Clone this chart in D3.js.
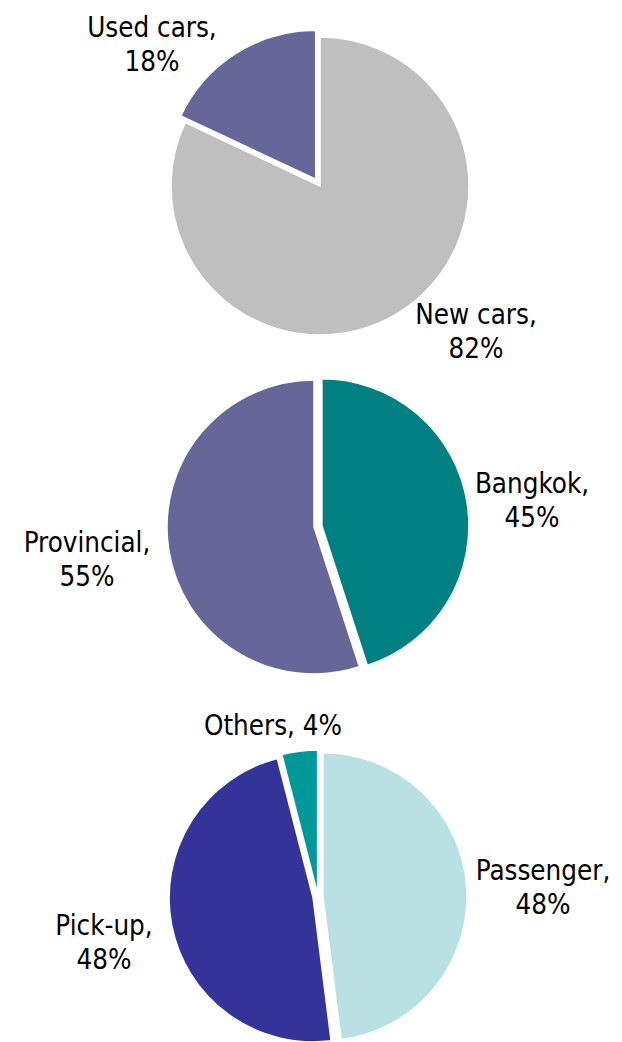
<!DOCTYPE html>
<html>
<head>
<meta charset="utf-8">
<script src="https://cdn.jsdelivr.net/npm/d3@7"></script>
<style>
    html, body { margin: 0; padding: 0; background: #ffffff; }
    svg text { font-family: "DejaVu Sans Condensed", "DejaVu Sans", sans-serif; font-stretch: condensed; font-size: 27.5px; fill: #000000; }
</style>
</head>
<body>
<div id="chart"></div>
<script>
// data, one small set per pie
var saleLabels = ['New cars', 'Used cars'];
var saleValues = [82, 18];

var regionLabels = ['Bangkok', 'Provincial'];
var regionValues = [45, 55];

var typeLabels = ['Passenger', 'Pick-up', 'Others'];
var typeValues = [48, 48, 4];

// layout / style for each pie (not data)
var pies = [
    {
        labels: saleLabels, values: saleValues,
        colors: ['#bfbfbf', '#666699'],
        explode: [0, 8],
        cx: 320, cy: 186, r: 149,
        text: [
            { x: 476, y: 324, lines: ['New cars,', '82%'] },
            { x: 152, y: 37, lines: ['Used cars,', '18%'] }
        ]
    },
    {
        labels: regionLabels, values: regionValues,
        colors: ['#008080', '#666699'],
        explode: [8, 0],
        cx: 314, cy: 527, r: 147,
        text: [
            { x: 532, y: 493, lines: ['Bangkok,', '45%'] },
            { x: 87, y: 552, lines: ['Provincial,', '55%'] }
        ]
    },
    {
        labels: typeLabels, values: typeValues,
        colors: ['#b9e0e3', '#333399', '#009999'],
        explode: [5, 5, 3],
        cx: 318, cy: 897, r: 144,
        text: [
            { x: 543, y: 880, lines: ['Passenger,', '48%'] },
            { x: 104, y: 935, lines: ['Pick-up,', '48%'] },
            { x: 273, y: 735, lines: ['Others, 4%'] }
        ]
    }
];

var width = 622, height = 1042;
var lineGap = 34;

var svg = d3.select('#chart').append('svg')
    .attr('width', width)
    .attr('height', height);

var pieLayout = d3.pie().sort(null).value(function(d){ return d; });

pies.forEach(function(p){
    var arcs = pieLayout(p.values);
    var arc = d3.arc().innerRadius(0).outerRadius(p.r);
    var g = svg.append('g').attr('transform', 'translate(' + p.cx + ',' + p.cy + ')');

    g.selectAll('path.slice')
        .data(arcs)
        .enter().append('path')
        .attr('class', 'slice')
        .attr('d', arc)
        .attr('fill', function(d, i){ return p.colors[i]; })
        .attr('stroke', '#ffffff')
        .attr('stroke-width', 1.5)
        .attr('transform', function(d, i){
            var mid = (d.startAngle + d.endAngle) / 2;
            var off = p.explode[i];
            return 'translate(' + (Math.sin(mid) * off) + ',' + (-Math.cos(mid) * off) + ')';
        });

    p.text.forEach(function(t){
        var txt = svg.append('text')
            .attr('text-anchor', 'middle')
            .attr('x', t.x)
            .attr('y', t.y);
        t.lines.forEach(function(s, k){
            txt.append('tspan')
                .attr('x', t.x)
                .attr('dy', k === 0 ? 0 : lineGap)
                .text(s);
        });
    });
});
</script>
</body>
</html>
